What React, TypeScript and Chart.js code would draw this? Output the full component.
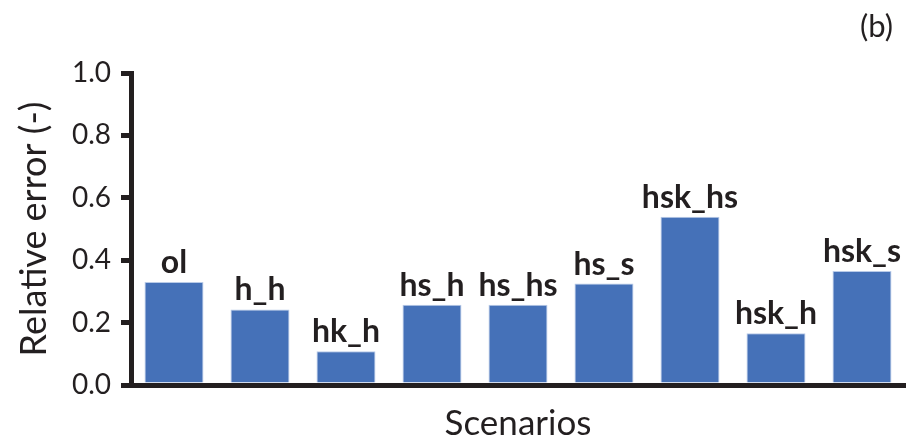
import React, { useEffect, useRef } from "react";
import { Chart, registerables } from "chart.js";

Chart.register(...registerables);

const scenarios = ["ol", "h_h", "hk_h", "hs_h", "hs_hs", "hs_s", "hsk_hs", "hsk_h", "hsk_s"];
const relativeError = [0.33, 0.242, 0.108, 0.257, 0.257, 0.325, 0.539, 0.166, 0.365];
const yTicks = [0, 0.2, 0.4, 0.6, 0.8, 1.0];
const panelLabel = "(b)";
const xTitle = "Scenarios";
const yTitle = "Relative error (-)";

const FONT = "Lato, 'Open Sans', sans-serif";
const INK = "#231f20";

const barLabels = {
  id: "barLabels",
  afterDatasetsDraw(chart: any) {
    const ctx = chart.ctx;
    const meta = chart.getDatasetMeta(0);
    ctx.save();
    ctx.fillStyle = INK;
    ctx.font = `bold 32px ${FONT}`;
    ctx.textAlign = "center";
    ctx.textBaseline = "alphabetic";
    meta.data.forEach((bar: any, i: number) => {
      ctx.fillText(scenarios[i], bar.x, bar.y - 9);
    });
    ctx.font = `31px ${FONT}`;
    ctx.textAlign = "right";
    ctx.fillText(panelLabel, 893, 37);
    ctx.restore();
  },
};

export default function App() {
  const ref = useRef<HTMLCanvasElement | null>(null);
  useEffect(() => {
    if (!ref.current) return;
    const chart = new Chart(ref.current, {
      type: "bar",
      data: {
        labels: scenarios,
        datasets: [
          {
            data: relativeError,
            backgroundColor: "#4571b8",
            borderColor: "#b9cbe8",
            borderWidth: 1,
            barPercentage: 0.686,
            categoryPercentage: 1,
          },
        ],
      },
      options: {
        responsive: false,
        animation: false,
        layout: { padding: { left: 0, right: 4, top: 73, bottom: 0 } },
        plugins: { legend: { display: false }, tooltip: { enabled: false } },
        scales: {
          x: {
            grid: { display: false },
            border: { display: true, color: INK, width: 5 },
            ticks: { display: false },
            title: {
              display: true,
              text: xTitle,
              color: INK,
              font: { family: FONT, size: 35 },
              padding: { top: 0, bottom: 1 },
            },
            afterFit: (s: any) => {
              s.height = 61;
            },
          },
          y: {
            min: 0,
            max: 1,
            afterBuildTicks: (s: any) => {
              s.ticks = yTicks.map((v) => ({ value: v }));
            },
            grid: {
              drawOnChartArea: false,
              drawTicks: true,
              tickLength: 10,
              lineWidth: 5,
              color: INK,
            },
            border: { display: true, color: INK, width: 5 },
            ticks: {
              color: INK,
              padding: 10,
              font: { family: FONT, size: 28 },
              callback: (v: any) => Number(v).toFixed(1),
            },
            title: {
              display: true,
              text: yTitle,
              color: INK,
              font: { family: FONT, size: 36 },
              padding: { top: 13, bottom: 0 },
            },
            afterFit: (s: any) => {
              s.width = 131;
            },
          },
        },
      },
      plugins: [barLabels],
    });
    return () => chart.destroy();
  }, []);
  return (
    <div style={{ position: "absolute", left: 0, top: 0, width: 909, height: 446, background: "#fff" }}>
      <canvas ref={ref} width={909} height={446} style={{ display: "block" }} />
    </div>
  );
}
